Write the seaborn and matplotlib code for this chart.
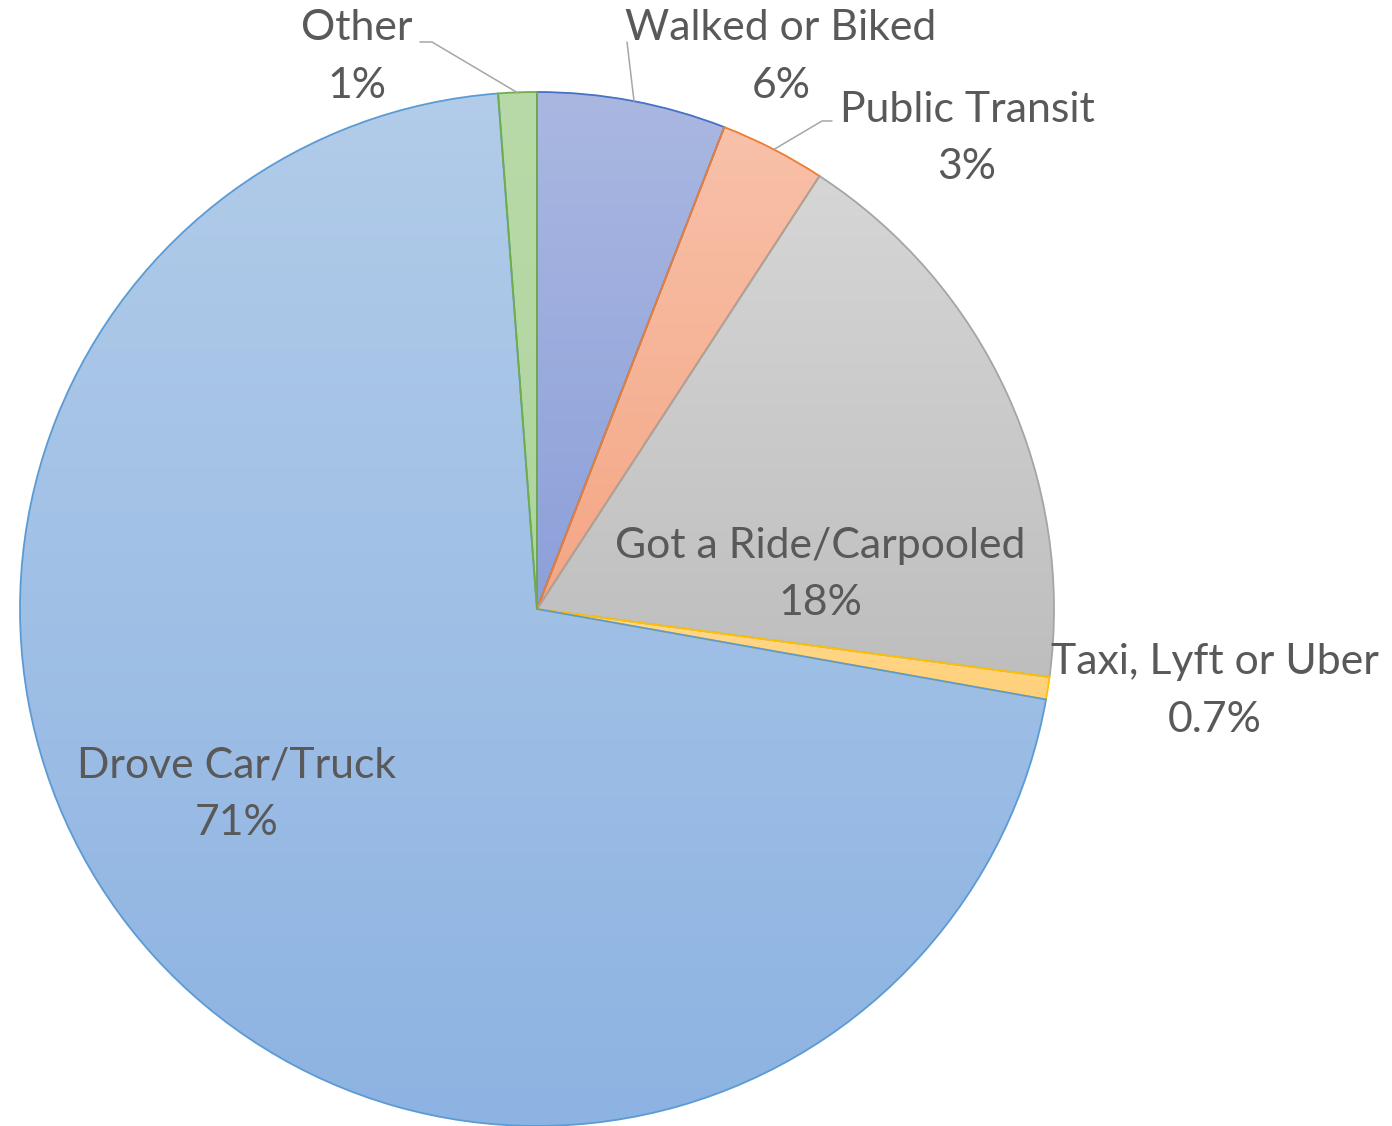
import numpy as np
import matplotlib
matplotlib.use("Agg")
import matplotlib.pyplot as plt
import seaborn as sns
from matplotlib.colors import LinearSegmentedColormap

sns.set_theme(style="white")
plt.rcParams['font.family'] = ['Lato', 'DejaVu Sans']

# ---- data ----
categories = ["Walked or Biked", "Public Transit", "Got a Ride/Carpooled",
              "Taxi, Lyft or Uber", "Drove Car/Truck", "Other"]
values = [5.9, 3.3, 17.9, 0.7, 71.0, 1.2]
pct_labels = ["6%", "3%", "18%", "0.7%", "71%", "1%"]

# ---- styles ----
top_colors = ["#AAB7E1", "#F8C1A9", "#D6D6D6", "#FFD98C", "#B2CCE9", "#B8DAA8"]
bot_colors = ["#8CA0D9", "#F4A685", "#BEBEBE", "#FFD07A", "#8DB3E2", "#B0D49E"]
edge_colors = ["#4472C4", "#ED7D31", "#A5A5A5", "#FFC000", "#5B9BD5", "#70AD47"]
text_color = "#595959"

W, H = 1392, 1126
fig = plt.figure(figsize=(W / 100, H / 100), dpi=100)
ax = fig.add_axes([0, 0, 1, 1])

cx, cy, R = 537, H - 609, 517
wedges, _ = ax.pie(values, center=(cx, cy), radius=R, startangle=90,
                   counterclock=False,
                   wedgeprops=dict(linewidth=1.3, facecolor="none"))
for w, ec in zip(wedges, edge_colors):
    w.set_edgecolor(ec)
    w.set_zorder(3)

# gradient fill per slice (clipped to the wedge)
for w, c0, c1 in zip(wedges, top_colors, bot_colors):
    verts = w.get_path().vertices
    ymin, ymax = verts[:, 1].min(), verts[:, 1].max()
    xmin, xmax = verts[:, 0].min(), verts[:, 0].max()
    cmap = LinearSegmentedColormap.from_list("g", [c1, c0])
    grad = np.linspace(0, 1, 256).reshape(-1, 1)
    im = ax.imshow(grad, cmap=cmap, origin="lower", aspect="auto",
                   extent=(xmin - 2, xmax + 2, ymin - 2, ymax + 2), zorder=2,
                   interpolation="bilinear")
    im.set_clip_path(w)

# labels: (x, y of first line, y of second line) in pixel coords
label_pos = {
    "Walked or Biked": (781, 28, 86),
    "Public Transit": (967, 110, 167),
    "Got a Ride/Carpooled": (820, 546, 603),
    "Taxi, Lyft or Uber": (1215, 662, 720),
    "Drove Car/Truck": (237, 766, 823),
    "Other": (357, 28, 86),
}
fs = 30.8
for cat, pct in zip(categories, pct_labels):
    x, y1, y2 = label_pos[cat]
    ax.text(x, H - y1, cat, ha="center", va="center", fontsize=fs,
            color=text_color, zorder=5)
    ax.text(x, H - y2, pct, ha="center", va="center", fontsize=fs,
            color=text_color, zorder=5)

# leader lines
leaders = [
    [(420, 42), (432, 42), (518, 93)],
    [(627, 42), (634, 101)],
    [(832, 121), (822, 121), (773, 150)],
]
for pts in leaders:
    xs = [p[0] for p in pts]
    ys = [H - p[1] for p in pts]
    ax.plot(xs, ys, color="#A6A6A6", linewidth=1.1, zorder=4)

ax.set_xlim(0, W)
ax.set_ylim(0, H)
ax.set_aspect("auto")
ax.axis("off")
fig.savefig("out.png", dpi=100, facecolor="white")
